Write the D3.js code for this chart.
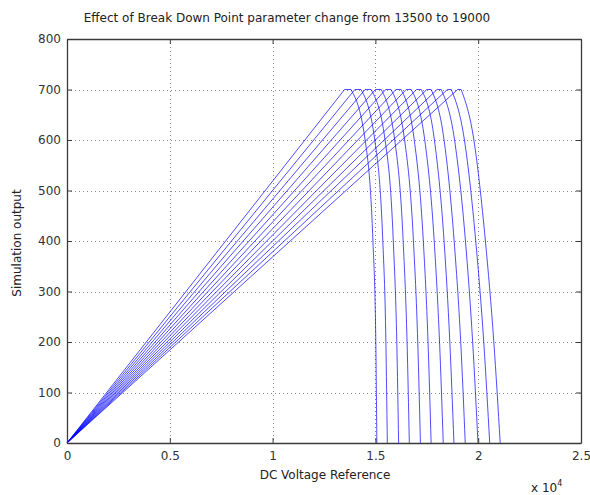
<!DOCTYPE html>
<html><head><meta charset="utf-8">
<script src="https://cdn.jsdelivr.net/npm/d3@7"></script>
<style>
html,body{margin:0;padding:0;background:#fff;}
svg{display:block;font-family:"DejaVu Sans",sans-serif;}
</style></head>
<body>
<svg id="chart" width="590" height="495"></svg>
<script>
// Break down point of each curve (x where the output first reaches the 700 plateau)
const breakDown = [13500,14000,14500,15000,15500,16000,16500,17000,17500,18000,18500,19000];
// End of the flat 700 plateau
const flatEnd   = [13810,14300,14790,15280,15760,16250,16740,17230,17710,18200,18690,19170];
// x where the falling side crosses 600, 400, 200 and reaches 0
const x600      = [14500,14970,15470,15940,16420,16890,17400,17870,18340,18850,19330,19790];
const x400      = [14880,15360,15870,16350,16850,17330,17860,18340,18830,19380,19880,20350];
const x200      = [15020,15510,16040,16540,17060,17560,18120,18620,19150,19730,20270,20760];
const xEnd      = [15070,15580,16130,16650,17190,17710,18300,18820,19370,19990,20560,21070];
const plateau = 700;
const xTicks = [0,5000,10000,15000,20000,25000];
const xTickLabels = ["0","0.5","1","1.5","2","2.5"];
const yTicks = [0,100,200,300,400,500,600,700,800];

const svg = d3.select("#chart");
const L = 67, R = 581, T = 39, B = 443;
const x = d3.scaleLinear().domain([0,25000]).range([L,R]);
const y = d3.scaleLinear().domain([0,800]).range([B,T]);
const FONT = "DejaVu Sans, sans-serif";

// grid
const grid = svg.append("g").attr("stroke","#888").attr("stroke-width",1).attr("stroke-dasharray","1,3");
xTicks.slice(1,-1).forEach(v=>grid.append("line").attr("x1",Math.round(x(v))+0.5).attr("x2",Math.round(x(v))+0.5).attr("y1",T).attr("y2",B));
yTicks.slice(1,-1).forEach(v=>grid.append("line").attr("y1",Math.round(y(v))+0.5).attr("y2",Math.round(y(v))+0.5).attr("x1",L).attr("x2",R));

// curves
const lineLin = d3.line().x(d=>x(d[0])).y(d=>y(d[1]));
const lineFall = d3.line().x(d=>x(d[0])).y(d=>y(d[1])).curve(d3.curveMonotoneX);
const g = svg.append("g").attr("fill","none").attr("stroke","#0000ff").attr("stroke-width",0.7);
breakDown.forEach((bd,i)=>{
  g.append("path").attr("d", lineLin([[0,0],[bd,plateau],[flatEnd[i],plateau]]));
  const fall = [[flatEnd[i],plateau],[x600[i],600],[x400[i],400],[x200[i],200],[xEnd[i],0]];
  g.append("path").attr("d", lineFall(fall));
});

// axes
const axCol = "#3a3a3a";
const xb = svg.append("g").attr("transform",`translate(0,${B})`).call(d3.axisBottom(x).tickValues(xTicks).tickFormat((d,i)=>xTickLabels[i]).tickSizeInner(-5).tickSizeOuter(0).tickPadding(8));
const xt = svg.append("g").attr("transform",`translate(0,${T})`).call(d3.axisTop(x).tickValues(xTicks).tickFormat("").tickSizeInner(-5).tickSizeOuter(0));
const yl = svg.append("g").attr("transform",`translate(${L},0)`).call(d3.axisLeft(y).tickValues(yTicks).tickSizeInner(-5).tickSizeOuter(0).tickPadding(6));
const yr = svg.append("g").attr("transform",`translate(${R},0)`).call(d3.axisRight(y).tickValues(yTicks).tickFormat("").tickSizeInner(-5).tickSizeOuter(0));
[xb,xt,yl,yr].forEach(a=>{
  a.selectAll("path").attr("stroke",axCol).attr("stroke-width",1.3);
  a.selectAll("line").attr("stroke",axCol);
  a.selectAll("text").attr("fill","#333").attr("font-size",12).attr("font-family",FONT);
});

svg.append("text").attr("x",287).attr("y",22).attr("text-anchor","middle").attr("font-size",12).attr("fill","#222")
  .text("Effect of Break Down Point parameter change from 13500 to 19000");
svg.append("text").attr("x",325).attr("y",479).attr("text-anchor","middle").attr("font-size",12).attr("fill","#222")
  .text("DC Voltage Reference");
svg.append("text").attr("transform","translate(21,243) rotate(-90)").attr("text-anchor","middle").attr("font-size",12).attr("fill","#222")
  .text("Simulation output");
const ex = svg.append("text").attr("x",531).attr("y",492).attr("font-size",12).attr("fill","#222");
ex.append("tspan").text("x 10");
ex.append("tspan").attr("dy",-6).attr("font-size",8).text("4");
</script>
</body></html>
